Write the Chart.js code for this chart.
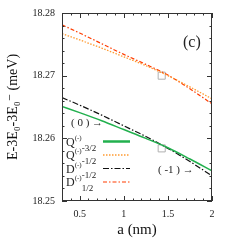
<!DOCTYPE html>
<html>
<head>
<meta charset="utf-8">
<script src="https://cdn.jsdelivr.net/npm/chart.js@4"></script>
<style>
  html, body { margin: 0; padding: 0; background: #fff; }
  canvas { display: block; }
</style>
</head>
<body>
<canvas id="chart" width="245" height="245"></canvas>
<script>
// ── DONNEES ──
const xs     = [0.3, 0.5, 0.75, 1.0, 1.25, 1.5, 1.75, 2.0];
const qM32   = [18.2651, 18.2641, 18.2628, 18.2614, 18.2600, 18.2585, 18.2567, 18.2548];
const qM12   = [18.2767, 18.2757, 18.2744, 18.2730, 18.2716, 18.2700, 18.2682, 18.2663];
const dM12   = [18.2665, 18.2653, 18.2637, 18.2620, 18.2603, 18.2584, 18.2563, 18.2540];
const dP12   = [18.2781, 18.2768, 18.2751, 18.2734, 18.2718, 18.2701, 18.2679, 18.2655];
const crossX = [1.43, 1.43];
const crossY = [18.2700, 18.2584];

const xTicks = [0.5, 1, 1.5, 2];
const yTicks = [18.25, 18.26, 18.27, 18.28];

const legendBase = ["Q", "Q", "D", "D"];
const legendSup  = ["(-)", "(-)", "(-)", "(-)"];
const legendSub  = ["-3/2", "-1/2", "-1/2", "1/2"];

const SERIF = "'Liberation Serif', 'DejaVu Serif', serif";

// ── STYLES ──
const series = [
    { data: qM32, color: "#22b04e", dash: [],           width: 1.5 },
    { data: qM12, color: "#ff9a30", dash: [1.5, 1.5],   width: 1.3 },
    { data: dM12, color: "#111111", dash: [6, 2, 1.5, 2], width: 1.2 },
    { data: dP12, color: "#ff3d00", dash: [4, 2, 1.5, 2], width: 1.2 }
];

function toPoints(arr) {
    return xs.map((x, i) => ({ x: x, y: arr[i] }));
}

const datasets = series.map(s => ({
    data: toPoints(s.data),
    borderColor: s.color,
    borderDash: s.dash,
    borderWidth: s.width,
    pointRadius: 0,
    cubicInterpolationMode: "monotone",
    fill: false
}));

datasets.push({
    data: crossX.map((x, i) => ({ x: x, y: crossY[i] })),
    showLine: false,
    pointStyle: "rect",
    pointRadius: 5,
    borderColor: "#b0b0b0",
    borderWidth: 1,
    backgroundColor: "rgba(0,0,0,0)"
});

// ── DECOR (cadre, ticks, legende, annotations) ──
const decor = {
    id: "decor",
    afterDraw(chart) {
        const ctx = chart.ctx;
        const a = chart.chartArea;
        const sx = chart.scales.x, sy = chart.scales.y;

        ctx.save();
        ctx.strokeStyle = "#333";
        ctx.lineWidth = 1;
        ctx.setLineDash([]);
        ctx.strokeRect(a.left + 0.5, a.top + 0.5, a.right - a.left - 1, a.bottom - a.top - 1);

        // ticks X
        ctx.beginPath();
        for (let k = 3; k <= 20; k++) {
            const v = k / 10;
            const px = Math.round(sx.getPixelForValue(v)) + 0.5;
            const len = (k % 5 === 0) ? 5 : 2.5;
            ctx.moveTo(px, a.bottom); ctx.lineTo(px, a.bottom - len);
            ctx.moveTo(px, a.top);    ctx.lineTo(px, a.top + len);
        }
        // ticks Y
        for (let k = 0; k <= 15; k++) {
            const v = 18.25 + k * 0.002;
            const py = Math.round(sy.getPixelForValue(v)) + 0.5;
            const len = (k % 5 === 0) ? 5 : 2.5;
            ctx.moveTo(a.left, py);  ctx.lineTo(a.left + len, py);
            ctx.moveTo(a.right, py); ctx.lineTo(a.right - len, py);
        }
        ctx.stroke();

        // legende
        const rows = [141.5, 155, 168.5, 182];
        ctx.fillStyle = "#222";
        ctx.textBaseline = "alphabetic";
        rows.forEach((ry, i) => {
            const s = series[i];
            ctx.strokeStyle = s.color;
            ctx.lineWidth = (i === 0) ? 2.5 : s.width;
            ctx.setLineDash(s.dash);
            ctx.beginPath();
            ctx.moveTo(103, ry); ctx.lineTo(130, ry);
            ctx.stroke();
            ctx.setLineDash([]);

            const base = ry + 4;
            ctx.textAlign = "left";
            ctx.font = "12px " + SERIF;
            ctx.fillText(legendBase[i], 66, base);
            let x = 66 + ctx.measureText(legendBase[i]).width;
            ctx.font = "7px " + SERIF;
            ctx.fillText(legendSup[i], x, base - 6);
            x += ctx.measureText(legendSup[i]).width;
            ctx.font = "9px " + SERIF;
            ctx.fillText(legendSub[i], x, base + 5);
        });

        // annotations
        ctx.font = "11px " + SERIF;
        ctx.textAlign = "left";
        ctx.textBaseline = "middle";
        ctx.fillText("( 0 ) \u2192", 71, 123);
        ctx.fillText("( -1 ) \u2192", 158, 170);
        ctx.font = "16px " + SERIF;
        ctx.fillText("(c)", 183, 43);
        ctx.restore();
    }
};

// ── CHART ──
new Chart(document.getElementById("chart").getContext("2d"), {
    type: "line",
    data: { datasets: datasets },
    plugins: [decor],
    options: {
        responsive: false,
        devicePixelRatio: 1,
        animation: false,
        layout: { padding: { left: 0, top: 13, right: 33, bottom: 0 } },
        plugins: { legend: { display: false }, tooltip: { enabled: false } },
        scales: {
            x: {
                type: "linear",
                min: 0.3, max: 2,
                afterBuildTicks: axis => { axis.ticks = xTicks.map(v => ({ value: v })); },
                afterFit: axis => { axis.height = 44; },
                grid: { display: false, drawTicks: false },
                border: { display: false },
                ticks: {
                    padding: 7,
                    color: "#222",
                    font: { family: SERIF, size: 10 },
                    callback: v => String(v)
                },
                title: {
                    display: true,
                    text: "a (nm)",
                    color: "#111",
                    font: { family: SERIF, size: 15 },
                    padding: { top: 0, bottom: 6 }
                }
            },
            y: {
                type: "linear",
                min: 18.25, max: 18.28,
                afterBuildTicks: axis => { axis.ticks = yTicks.map(v => ({ value: v })); },
                afterFit: axis => { axis.width = 62; },
                grid: { display: false, drawTicks: false },
                border: { display: false },
                ticks: {
                    padding: 7,
                    color: "#222",
                    font: { family: SERIF, size: 10 },
                    callback: v => Number(v).toFixed(2)
                },
                title: {
                    display: true,
                    text: "E-3E\u2080-3E\u2080\u207B (meV)",
                    color: "#111",
                    font: { family: SERIF, size: 14 },
                    padding: { top: 5, bottom: 0 }
                }
            }
        }
    }
});
</script>
</body>
</html>
